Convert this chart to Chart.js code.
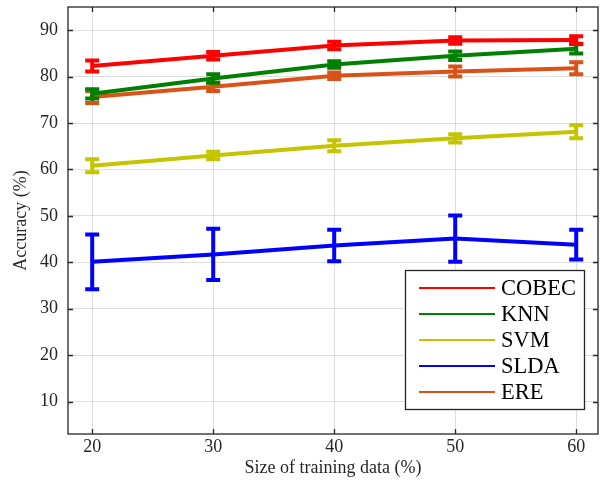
<!DOCTYPE html>
<html>
<head>
<meta charset="utf-8">
<script src="https://cdn.jsdelivr.net/npm/chart.js@4.4.1/dist/chart.umd.min.js"></script>
<style>
  html, body { margin: 0; padding: 0; background: #fff; }
  #wrap { width: 609px; height: 481px; position: relative; }
</style>
</head>
<body>
<div id="wrap"><canvas id="myChart"></canvas></div>
<script>
// training data size (%)
const xValues = [20, 30, 40, 50, 60];
const xTicks = [20, 30, 40, 50, 60];
const yTicks = [10, 20, 30, 40, 50, 60, 70, 80, 90];

// accuracy (%) and error bar half widths
const cobecAcc = [82.3, 84.5, 86.7, 87.8, 87.9];
const cobecErr = [1.2, 0.8, 0.8, 0.7, 0.8];
const knnAcc = [76.3, 79.6, 82.6, 84.5, 86.0];
const knnErr = [1.0, 0.9, 0.7, 0.9, 1.0];
const svmAcc = [60.8, 63.0, 65.1, 66.7, 68.1];
const svmErr = [1.4, 0.8, 1.2, 0.9, 1.4];
const sldaAcc = [40.1, 41.7, 43.6, 45.1, 43.8];
const sldaErr = [5.9, 5.5, 3.4, 5.0, 3.2];
const ereAcc = [75.6, 77.8, 80.2, 81.1, 81.8];
const ereErr = [1.3, 0.9, 0.7, 1.1, 1.3];

const seriesNames = ["COBEC", "KNN", "SVM", "SLDA", "ERE"];
const seriesColors = ["#ff0000", "#008000", "#c4c400", "#0000ff", "#d95319"];

const axisColor = "#262626";
const fontFamily = "'Liberation Serif', 'Times New Roman', serif";

function makeDataset(i, acc, err) {
    return {
        label: seriesNames[i],
        data: xValues.map((x, k) => ({ x: x, y: acc[k] })),
        errors: err,
        borderColor: seriesColors[i],
        backgroundColor: seriesColors[i],
        borderWidth: 4,
        pointRadius: 0,
        tension: 0,
        fill: false
    };
}

// error bars drawn right after each line so layering matches
const errorBarPlugin = {
    id: "errorBars",
    afterDatasetDraw(chart, args) {
        const ds = chart.data.datasets[args.index];
        const xs = chart.scales.x, ys = chart.scales.y;
        const ctx = chart.ctx;
        ctx.save();
        ctx.strokeStyle = ds.borderColor;
        ctx.lineWidth = 4;
        ctx.lineCap = "butt";
        ds.data.forEach((p, k) => {
            const e = ds.errors[k];
            const px = xs.getPixelForValue(p.x);
            const top = ys.getPixelForValue(p.y + e);
            const bot = ys.getPixelForValue(p.y - e);
            ctx.beginPath();
            ctx.moveTo(px, top);
            ctx.lineTo(px, bot);
            ctx.moveTo(px - 7, top);
            ctx.lineTo(px + 7, top);
            ctx.moveTo(px - 7, bot);
            ctx.lineTo(px + 7, bot);
            ctx.stroke();
        });
        ctx.restore();
    }
};

// matlab style box, inward ticks and legend
const boxPlugin = {
    id: "box",
    afterDraw(chart) {
        const ctx = chart.ctx;
        const a = chart.chartArea;
        const xs = chart.scales.x, ys = chart.scales.y;
        ctx.save();
        ctx.strokeStyle = axisColor;
        ctx.lineWidth = 1.3;
        ctx.strokeRect(a.left, a.top, a.right - a.left, a.bottom - a.top);
        ctx.beginPath();
        xTicks.forEach(t => {
            const px = Math.round(xs.getPixelForValue(t)) + 0.5;
            ctx.moveTo(px, a.bottom); ctx.lineTo(px, a.bottom - 5);
            ctx.moveTo(px, a.top); ctx.lineTo(px, a.top + 5);
        });
        yTicks.forEach(t => {
            const py = Math.round(ys.getPixelForValue(t)) + 0.5;
            ctx.moveTo(a.left, py); ctx.lineTo(a.left + 5, py);
            ctx.moveTo(a.right, py); ctx.lineTo(a.right - 5, py);
        });
        ctx.stroke();

        // legend
        const lx = 405.5, ly = 270.5, lw = 179, lh = 139;
        ctx.fillStyle = "#fff";
        ctx.fillRect(lx, ly, lw, lh);
        ctx.strokeStyle = axisColor;
        ctx.lineWidth = 1.3;
        ctx.strokeRect(lx, ly, lw, lh);
        ctx.font = "22.5px " + fontFamily;
        ctx.textBaseline = "middle";
        ctx.textAlign = "left";
        chart.data.datasets.forEach((ds, i) => {
            const y = 288 + i * 26;
            ctx.strokeStyle = ds.borderColor;
            ctx.lineWidth = 2;
            ctx.beginPath();
            ctx.moveTo(419, y);
            ctx.lineTo(495, y);
            ctx.stroke();
            ctx.fillStyle = "#000";
            ctx.fillText(ds.label, 501, y + 1);
        });
        ctx.restore();
    }
};

const chartConfig = {
    type: "line",
    data: {
        datasets: [
            makeDataset(0, cobecAcc, cobecErr),
            makeDataset(1, knnAcc, knnErr),
            makeDataset(2, svmAcc, svmErr),
            makeDataset(3, sldaAcc, sldaErr),
            makeDataset(4, ereAcc, ereErr)
        ]
    },
    options: {
        responsive: false,
        animation: false,
        devicePixelRatio: 1,
        layout: { padding: { left: 0, right: 11, top: 7, bottom: 0 } },
        plugins: {
            legend: { display: false },
            tooltip: { enabled: false }
        },
        scales: {
            x: {
                type: "linear",
                min: 18,
                max: 61.8,
                afterBuildTicks: s => { s.ticks = xTicks.map(v => ({ value: v })); },
                afterFit: s => { s.height = 47; s.paddingLeft = 0; s.paddingRight = 0; },
                grid: { color: "rgba(0,0,0,0.13)", drawTicks: false },
                border: { display: false },
                ticks: {
                    color: axisColor,
                    padding: 2,
                    font: { family: fontFamily, size: 18 }
                },
                title: {
                    display: true,
                    text: "Size of training data (%)",
                    color: axisColor,
                    padding: { top: 0, bottom: 2 },
                    font: { family: fontFamily, size: 18 }
                }
            },
            y: {
                min: 3,
                max: 95,
                afterBuildTicks: s => { s.ticks = yTicks.map(v => ({ value: v })); },
                afterFit: s => { s.width = 68; s.paddingTop = 0; s.paddingBottom = 0; },
                grid: { color: "rgba(0,0,0,0.13)", drawTicks: false },
                border: { display: false },
                ticks: {
                    color: axisColor,
                    padding: 10,
                    font: { family: fontFamily, size: 18 }
                },
                title: {
                    display: true,
                    text: "Accuracy (%)",
                    color: axisColor,
                    padding: { top: 10, bottom: 0 },
                    font: { family: fontFamily, size: 18 }
                }
            }
        }
    },
    plugins: [errorBarPlugin, boxPlugin]
};

const canvas = document.getElementById("myChart");
canvas.width = 609;
canvas.height = 481;
new Chart(canvas, chartConfig);
</script>
</body>
</html>
